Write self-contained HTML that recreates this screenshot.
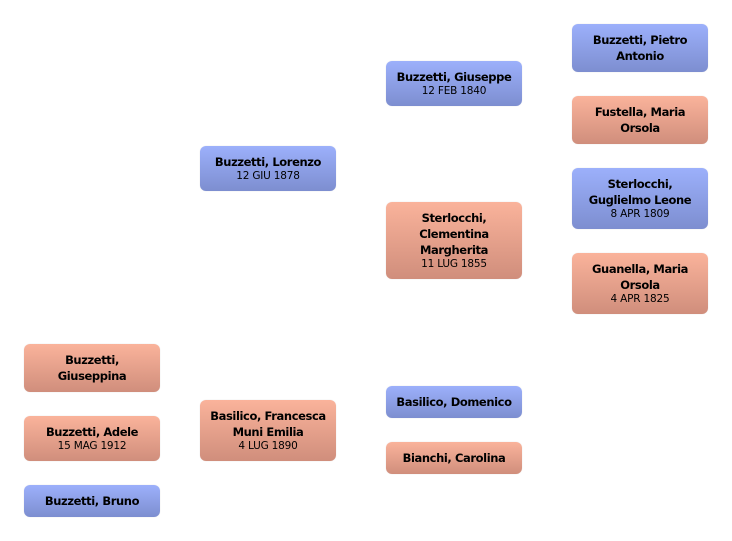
<!DOCTYPE html>
<html><head><style>
body{margin:0;width:732px;height:541px;background:#fff;position:relative;font-family:"DejaVu Sans","Liberation Sans",sans-serif;}
.b{position:absolute;width:136px;border-radius:6px;display:flex;flex-direction:column;justify-content:center;align-items:center;text-align:center;color:#000;box-sizing:border-box;box-shadow:0 0 1px rgba(0,0,0,0.15);}
.m{background:linear-gradient(#9cb0fb,#7d8ed0);}
.f{background:linear-gradient(#fab39b,#d08e7c);}
.n{font-weight:bold;font-size:11.5px;line-height:16px;letter-spacing:-0.4px;}
.d{font-size:10.5px;line-height:13px;letter-spacing:-0.2px;}
</style></head><body>
<div class="b m" style="left:572px;top:24px;height:48px"><div class="n">Buzzetti, Pietro<br>Antonio</div></div>
<div class="b f" style="left:572px;top:96px;height:48px"><div class="n">Fustella, Maria<br>Orsola</div></div>
<div class="b m" style="left:572px;top:168px;height:61px"><div class="n">Sterlocchi,<br>Guglielmo Leone</div><div class="d">8 APR 1809</div></div>
<div class="b f" style="left:572px;top:253px;height:61px"><div class="n">Guanella, Maria<br>Orsola</div><div class="d">4 APR 1825</div></div>
<div class="b m" style="left:386px;top:61px;height:45px"><div class="n">Buzzetti, Giuseppe</div><div class="d">12 FEB 1840</div></div>
<div class="b f" style="left:386px;top:202px;height:77px"><div class="n">Sterlocchi,<br>Clementina<br>Margherita</div><div class="d">11 LUG 1855</div></div>
<div class="b m" style="left:200px;top:146px;height:45px"><div class="n">Buzzetti, Lorenzo</div><div class="d">12 GIU 1878</div></div>
<div class="b f" style="left:200px;top:400px;height:61px"><div class="n">Basilico, Francesca<br>Muni Emilia</div><div class="d">4 LUG 1890</div></div>
<div class="b m" style="left:386px;top:386px;height:32px"><div class="n">Basilico, Domenico</div></div>
<div class="b f" style="left:386px;top:442px;height:32px"><div class="n">Bianchi, Carolina</div></div>
<div class="b f" style="left:24px;top:344px;height:48px"><div class="n">Buzzetti,<br>Giuseppina</div></div>
<div class="b f" style="left:24px;top:416px;height:45px"><div class="n">Buzzetti, Adele</div><div class="d">15 MAG 1912</div></div>
<div class="b m" style="left:24px;top:485px;height:32px"><div class="n">Buzzetti, Bruno</div></div>
</body></html>
